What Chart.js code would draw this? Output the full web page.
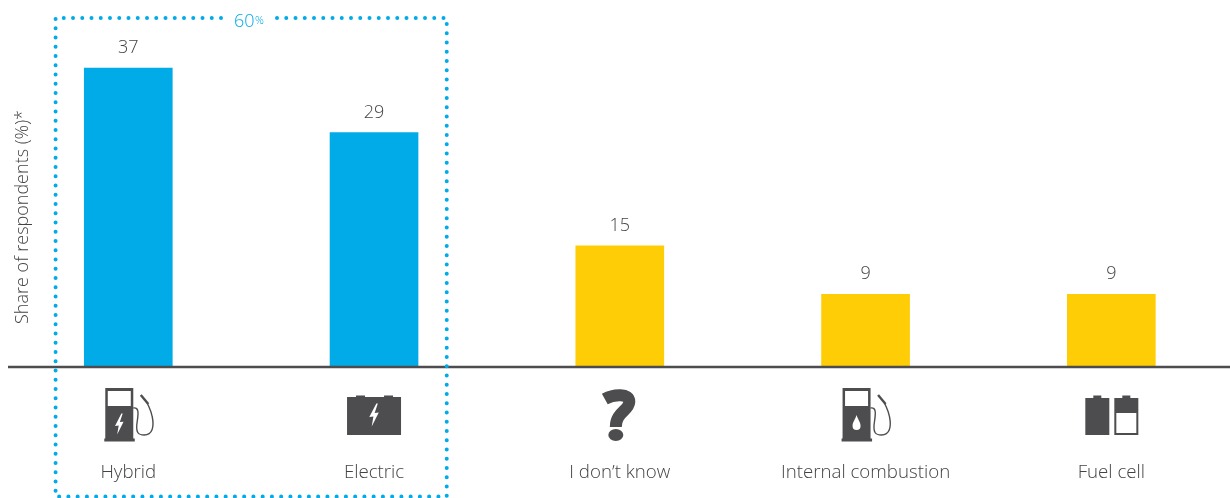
<!DOCTYPE html>
<html>
<head>
<meta charset="utf-8">
<style>
  html, body { margin: 0; padding: 0; background: #fff; overflow: hidden; }
  canvas { display: block; }
</style>
<script src="https://cdn.jsdelivr.net/npm/chart.js@4"></script>
</head>
<body>
<canvas id="myChart" width="1240" height="498"></canvas>
<script>
// Data
const categories = ["Hybrid", "Electric", "I don\u2019t know", "Internal combustion", "Fuel cell"];
const shares = [37, 29, 15, 9, 9];
const barColors = ["#00ABE8", "#00ABE8", "#FFCD05", "#FFCD05", "#FFCD05"];
const yAxisTitle = "Share of respondents (%)*";
const groupTotal = "60";
const groupUnit = "%";

const GREY = "#4D4D4F";
const TEXT = "#434345";
const BLUE = "#00ABE8";
const FONT = "'Open Sans', 'Noto Sans', sans-serif";

function bolt(ctx, x, y, s) {
  ctx.beginPath();
  ctx.moveTo(x + 2.2 * s, y - 11 * s);
  ctx.lineTo(x - 4.5 * s, y + 2 * s);
  ctx.lineTo(x - 0.6 * s, y + 1.5 * s);
  ctx.lineTo(x - 2.2 * s, y + 11 * s);
  ctx.lineTo(x + 4.5 * s, y - 2.5 * s);
  ctx.lineTo(x + 0.6 * s, y - 2 * s);
  ctx.lineTo(x + 3.6 * s, y - 11 * s);
  ctx.closePath();
  ctx.fill();
}

function pump(ctx, cx, base, inner) {
  const x = cx - 23;
  ctx.fillStyle = GREY;
  ctx.fillRect(x, base + 21, 28, 52);
  ctx.fillRect(x - 1, base + 71.5, 30.5, 3);
  ctx.fillStyle = "#fff";
  ctx.fillRect(x + 2.5, base + 24, 23, 15);
  if (inner === "bolt") {
    bolt(ctx, x + 14, base + 57, 0.95);
  } else {
    ctx.beginPath();
    ctx.moveTo(x + 14, base + 48);
    ctx.bezierCurveTo(x + 15.5, base + 53, x + 18, base + 55, x + 18, base + 59);
    ctx.arc(x + 14, base + 59, 4, 0, Math.PI);
    ctx.bezierCurveTo(x + 10, base + 55, x + 12.5, base + 53, x + 14, base + 48);
    ctx.fill();
  }
  // hose and nozzle
  ctx.strokeStyle = GREY;
  ctx.lineWidth = 1.4;
  ctx.beginPath();
  ctx.moveTo(x + 28, base + 41);
  ctx.bezierCurveTo(x + 34, base + 40, x + 33, base + 47, x + 32, base + 54);
  ctx.bezierCurveTo(x + 30, base + 66, x + 33, base + 68, x + 39, base + 68);
  ctx.bezierCurveTo(x + 47, base + 68, x + 49, base + 60, x + 47, base + 50);
  ctx.bezierCurveTo(x + 46, base + 44, x + 44, base + 41, x + 42, base + 36);
  ctx.stroke();
  ctx.lineWidth = 2.4;
  ctx.beginPath();
  ctx.moveTo(x + 35.5, base + 28);
  ctx.lineTo(x + 43, base + 37);
  ctx.stroke();
}

function battery(ctx, cx, base) {
  ctx.fillStyle = GREY;
  ctx.fillRect(cx - 27, base + 30, 54, 38);
  ctx.fillRect(cx - 18, base + 28.5, 9, 2);
  ctx.fillRect(cx + 10, base + 28.5, 9, 2);
  ctx.fillStyle = "#fff";
  bolt(ctx, cx, base + 48, 1.05);
}

function fuelCell(ctx, cx, base) {
  ctx.fillStyle = GREY;
  ctx.fillRect(cx - 26, base + 31, 24, 37);
  ctx.fillRect(cx - 18, base + 28.5, 8, 3);
  ctx.fillRect(cx + 3, base + 31, 24, 37);
  ctx.fillRect(cx + 11, base + 28.5, 8, 3);
  ctx.fillStyle = "#fff";
  ctx.fillRect(cx + 5, base + 46, 20, 20);
}

function question(ctx, cx, base) {
  ctx.strokeStyle = GREY;
  ctx.fillStyle = GREY;
  ctx.lineWidth = 12;
  ctx.beginPath();
  ctx.moveTo(cx - 15, base + 32);
  ctx.bezierCurveTo(cx - 6, base + 27, cx + 10, base + 26, cx + 9.5, base + 35);
  ctx.bezierCurveTo(cx + 9, base + 44, cx - 4, base + 45, cx - 4, base + 60);
  ctx.stroke();
  ctx.beginPath();
  ctx.ellipse(cx - 4, base + 68, 7.5, 6, 0, 0, Math.PI * 2);
  ctx.fill();
}

const extras = {
  id: "extras",
  // value labels, dotted box and icons hang off the library's scales
  afterDatasetsDraw(chart) {
    const { ctx, chartArea, scales } = chart;
    const bars = chart.getDatasetMeta(0).data;
    const base = chartArea.bottom;
    ctx.save();

    // baseline
    ctx.strokeStyle = GREY;
    ctx.lineWidth = 2.5;
    ctx.beginPath();
    ctx.moveTo(8, base);
    ctx.lineTo(1230, base);
    ctx.stroke();

    // value labels
    ctx.fillStyle = TEXT;
    ctx.textAlign = "center";
    ctx.textBaseline = "alphabetic";
    ctx.font = "300 18px " + FONT;
    bars.forEach((bar, i) => {
      ctx.fillText(String(shares[i]), bar.x, bar.y - 15);
    });

    // icons
    const cx = i => scales.x.getPixelForValue(i);
    pump(ctx, cx(0), base, "bolt");
    battery(ctx, cx(1), base);
    question(ctx, cx(2), base);
    pump(ctx, cx(3), base, "drop");
    fuelCell(ctx, cx(4), base);

    // y axis title
    ctx.save();
    ctx.translate(23, 217);
    ctx.rotate(-Math.PI / 2);
    ctx.fillStyle = TEXT;
    ctx.font = "300 18px " + FONT;
    ctx.textAlign = "center";
    ctx.textBaseline = "middle";
    ctx.fillText(yAxisTitle, 0, 0);
    ctx.restore();

    // dotted group box, two runs either side of the 60% label
    const left = cx(0) - 72.7, right = cx(1) + 72.7, top = 18, bottom = 496.5;
    ctx.strokeStyle = BLUE;
    ctx.lineWidth = 4;
    ctx.lineCap = "round";
    ctx.setLineDash([0, 9.25]);
    ctx.beginPath();
    ctx.moveTo(221, top);
    ctx.lineTo(left, top);
    ctx.lineTo(left, bottom);
    ctx.lineTo(right, bottom);
    ctx.stroke();
    ctx.beginPath();
    ctx.moveTo(277, top);
    ctx.lineTo(right, top);
    ctx.lineTo(right, bottom);
    ctx.stroke();
    ctx.setLineDash([]);

    // 60% label
    ctx.fillStyle = BLUE;
    ctx.textAlign = "left";
    ctx.textBaseline = "alphabetic";
    ctx.font = "300 18px " + FONT;
    ctx.fillText(groupTotal, 234, 27);
    ctx.font = "300 11px " + FONT;
    ctx.fillText(groupUnit, 255, 24);
    ctx.restore();
  }
};

new Chart(document.getElementById("myChart").getContext("2d"), {
  type: "bar",
  data: {
    labels: categories,
    datasets: [{
      data: shares,
      backgroundColor: barColors,
      barThickness: 88,
      borderWidth: 0
    }]
  },
  options: {
    responsive: false,
    animation: false,
    layout: { padding: { left: 5.4, right: 5.8, top: 3.4, bottom: 0 } },
    plugins: { legend: { display: false }, tooltip: { enabled: false } },
    scales: {
      y: { display: false, min: 0, max: 45 },
      x: {
        afterFit(scale) { scale.height = 131; },
        grid: { display: false },
        border: { display: false },
        ticks: {
          color: TEXT,
          padding: 86.5,
          maxRotation: 0,
          autoSkip: false,
          font: { family: FONT, size: 18.7, weight: "300" }
        }
      }
    }
  },
  plugins: [extras]
});
</script>
</body>
</html>
